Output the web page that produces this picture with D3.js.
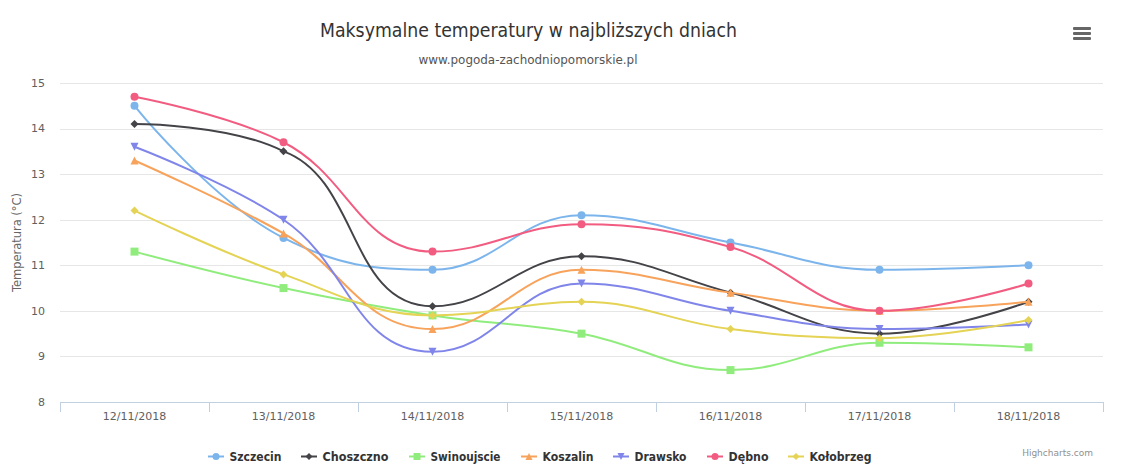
<!DOCTYPE html>
<html>
<head>
<meta charset="utf-8">
<script src="https://cdn.jsdelivr.net/npm/d3@7/dist/d3.min.js"></script>
<style>
  html,body{margin:0;padding:0;background:#fff;}
  svg{display:block;}
</style>
</head>
<body>
<svg id="chart" width="1121" height="472"></svg>
<script>
// ---- DATA ----
const categories = ["12/11/2018","13/11/2018","14/11/2018","15/11/2018","16/11/2018","17/11/2018","18/11/2018"];
const yTicks = [8,9,10,11,12,13,14,15];
const seriesNames = ["Szczecin","Choszczno","Swinoujscie","Koszalin","Drawsko","Dębno","Kołobrzeg"];
const szczecin    = [14.5, 11.6, 10.9, 12.1, 11.5, 10.9, 11.0];
const choszczno   = [14.1, 13.5, 10.1, 11.2, 10.4, 9.5, 10.2];
const swinoujscie = [11.3, 10.5, 9.9, 9.5, 8.7, 9.3, 9.2];
const koszalin    = [13.3, 11.7, 9.6, 10.9, 10.4, 10.0, 10.2];
const drawsko     = [13.6, 12.0, 9.1, 10.6, 10.0, 9.6, 9.7];
const debno       = [14.7, 13.7, 11.3, 11.9, 11.4, 10.0, 10.6];
const kolobrzeg   = [12.2, 10.8, 9.9, 10.2, 9.6, 9.4, 9.8];
const titleText = "Maksymalne temperatury w najbliższych dniach";
const subtitleText = "www.pogoda-zachodniopomorskie.pl";
const yAxisTitle = "Temperatura (°C)";

// ---- STYLE ----
const colors = ["#7cb5ec","#434348","#90ed7d","#f7a35c","#8085e9","#f15c80","#e4d354"];
const symbols = ["circle","diamond","square","triangle","triangle-down","circle","diamond"];
const seriesValues = [szczecin, choszczno, swinoujscie, koszalin, drawsko, debno, kolobrzeg];
const series = seriesNames.map((n,i)=>({name:n, values:seriesValues[i], color:colors[i], symbol:symbols[i]}));

const font = "'DejaVu Sans', Verdana, sans-serif";
const svg = d3.select("#chart");
const plot = {left:60, right:1103, top:83, bottom:402};

const x = d3.scaleBand().domain(categories).range([plot.left, plot.right]).paddingInner(0).paddingOuter(0);
const xc = c => x(c) + x.bandwidth()/2;
const y = d3.scaleLinear().domain([8,15]).range([plot.bottom, plot.top]);

function fit(sel, w){ sel.attr("textLength", w).attr("lengthAdjust","spacingAndGlyphs"); return sel; }

// Title & subtitle
fit(svg.append("text").attr("x",528.5).attr("y",37).attr("text-anchor","middle")
  .attr("font-family",font).attr("font-size",19).attr("fill","#333333").text(titleText), 417);
fit(svg.append("text").attr("x",528).attr("y",64).attr("text-anchor","middle")
  .attr("font-family",font).attr("font-size",12).attr("fill","#555555").text(subtitleText), 219);

// Grid lines
svg.append("g").selectAll("line").data(yTicks.filter(t=>t>8)).join("line")
  .attr("x1",plot.left).attr("x2",plot.right)
  .attr("y1",d=>Math.round(y(d))+0.5).attr("y2",d=>Math.round(y(d))+0.5)
  .attr("stroke","#e6e6e6").attr("stroke-width",1);

// Y axis labels
const yAxis = svg.append("g").attr("transform",`translate(45,0)`)
  .call(d3.axisLeft(y).tickValues(yTicks).tickSize(0).tickPadding(0).tickFormat(d3.format("d")));
yAxis.select(".domain").remove();
yAxis.selectAll("text").attr("font-family",font).attr("font-size",11).attr("fill","#606060").attr("dy","0.3em");

// Y axis title
svg.append("text").attr("transform",`translate(21,${(plot.top+plot.bottom)/2}) rotate(-90)`)
  .attr("text-anchor","middle").attr("font-family",font).attr("font-size",12).attr("fill","#666666")
  .text(yAxisTitle).call(s=>fit(s,99));

// X axis
const xAxis = svg.append("g").attr("transform",`translate(0,${plot.bottom})`)
  .call(d3.axisBottom(x).tickSize(0).tickPadding(15));
xAxis.select(".domain").remove();
xAxis.selectAll("text").attr("font-family",font).attr("font-size",11).attr("fill","#606060").attr("dy","0.3em");
svg.append("line").attr("x1",plot.left).attr("x2",plot.right).attr("y1",plot.bottom+0.5).attr("y2",plot.bottom+0.5)
  .attr("stroke","#C0D0E0").attr("stroke-width",1);
const tickPos = categories.map(c=>x(c)).concat([plot.right]);
svg.append("g").selectAll("line").data(tickPos).join("line")
  .attr("x1",d=>Math.round(d)+0.5).attr("x2",d=>Math.round(d)+0.5)
  .attr("y1",plot.bottom).attr("y2",plot.bottom+10)
  .attr("stroke","#C0D0E0").attr("stroke-width",1);

// Highcharts-like spline
function hcSpline(pts){
  const s=1.5, dn=2.5;
  const ctrl = pts.map(()=>({}));
  const p = d3.path();
  p.moveTo(pts[0][0], pts[0][1]);
  for (let i=1;i<pts.length;i++){
    const [px,py]=pts[i], last=pts[i-1], next=pts[i+1];
    let lcx=px, lcy=py, rcx, rcy;
    if (next){
      lcx=(s*px+last[0])/dn; lcy=(s*py+last[1])/dn;
      rcx=(s*px+next[0])/dn; rcy=(s*py+next[1])/dn;
      const dl=Math.hypot(lcx-px,lcy-py), dr=Math.hypot(rcx-px,rcy-py);
      const la=Math.atan2(lcy-py,lcx-px), ra=Math.atan2(rcy-py,rcx-px);
      let ja=Math.PI/2+(la+ra)/2;
      if (Math.abs(la-ja)>Math.PI/2) ja-=Math.PI;
      lcx=px+Math.cos(ja)*dl; lcy=py+Math.sin(ja)*dl;
      rcx=px+Math.cos(Math.PI+ja)*dr; rcy=py+Math.sin(Math.PI+ja)*dr;
      if (lcy>last[1] && lcy>py){ lcy=Math.max(last[1],py); rcy=2*py-lcy; }
      else if (lcy<last[1] && lcy<py){ lcy=Math.min(last[1],py); rcy=2*py-lcy; }
      if (rcy>next[1] && rcy>py){ rcy=Math.max(next[1],py); lcy=2*py-rcy; }
      else if (rcy<next[1] && rcy<py){ rcy=Math.min(next[1],py); lcy=2*py-rcy; }
      ctrl[i]={rcx,rcy};
    }
    const c1x = ctrl[i-1].rcx ?? last[0], c1y = ctrl[i-1].rcy ?? last[1];
    p.bezierCurveTo(c1x,c1y,lcx,lcy,px,py);
  }
  return p.toString();
}

function markerPath(sym, cx, cy, r){
  switch(sym){
    case "circle": { const p=d3.path(); p.arc(cx,cy,r,0,2*Math.PI); return p.toString(); }
    case "square": return `M${cx-r},${cy-r}H${cx+r}V${cy+r}H${cx-r}Z`;
    case "diamond": return `M${cx},${cy-r}L${cx+r},${cy}L${cx},${cy+r}L${cx-r},${cy}Z`;
    case "triangle": return `M${cx},${cy-r}L${cx+r},${cy+r}L${cx-r},${cy+r}Z`;
    case "triangle-down": return `M${cx-r},${cy-r}L${cx+r},${cy-r}L${cx},${cy+r}Z`;
  }
}

const gSeries = svg.append("g");
series.forEach(s=>{
  const pts = s.values.map((v,i)=>[xc(categories[i]), y(v)]);
  const g = gSeries.append("g");
  g.append("path").attr("d",hcSpline(pts)).attr("fill","none").attr("stroke",s.color)
    .attr("stroke-width",2).attr("stroke-linejoin","round").attr("stroke-linecap","round");
  g.selectAll("path.m").data(pts).join("path").attr("class","m")
    .attr("d",d=>markerPath(s.symbol,d[0],d[1],4)).attr("fill",s.color);
});

// Legend
const legendSymX = [208,301,409,521,613,707,788];
const legendTextW = [52,66,70,51,52,40,62];
const legendY = 456.5;
series.forEach((s,i)=>{
  const g = svg.append("g");
  const x0 = legendSymX[i];
  g.append("line").attr("x1",x0).attr("x2",x0+16).attr("y1",legendY).attr("y2",legendY)
    .attr("stroke",s.color).attr("stroke-width",2);
  g.append("path").attr("d",markerPath(s.symbol,x0+8,legendY,3.5)).attr("fill",s.color);
  fit(g.append("text").attr("x",x0+21.5).attr("y",461)
    .attr("font-family",font)
    .attr("font-weight","bold").attr("font-size",12).attr("fill","#333333").text(s.name), legendTextW[i]);
});

// Credits
svg.append("text").attr("x",1093).attr("y",456).attr("text-anchor","end")
  .attr("font-family",font).attr("font-size",9).attr("fill","#909090").text("Highcharts.com");

// Menu icon
svg.append("g").selectAll("rect").data([27,32,37]).join("rect")
  .attr("x",1073).attr("y",d=>d).attr("width",18).attr("height",3).attr("rx",1)
  .attr("fill","#666666");
</script>
</body>
</html>
